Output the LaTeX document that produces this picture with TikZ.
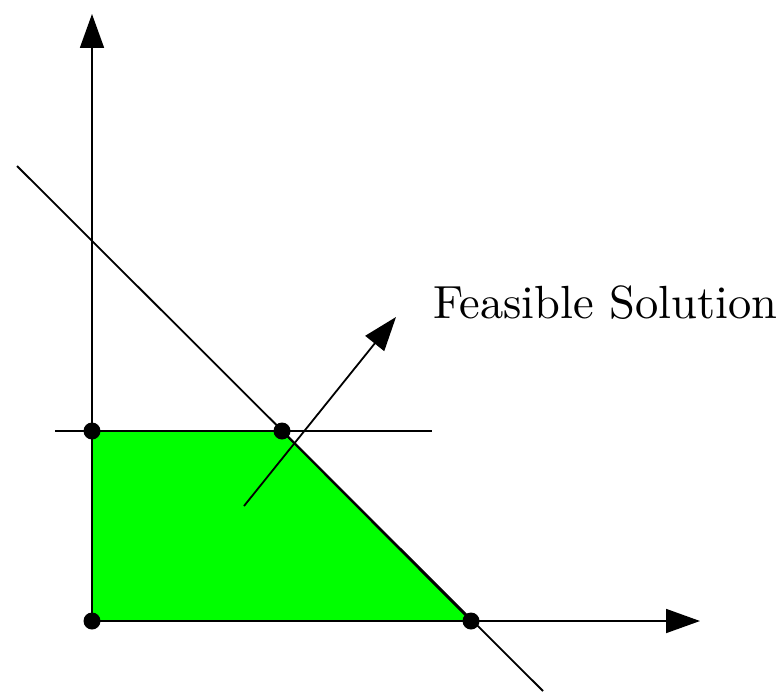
\documentclass[tikz,border=0pt]{standalone}
\usepackage{graphicx}
\usetikzlibrary{arrows.meta}
\begin{document}
\begin{tikzpicture}[x=1pt,y=-1pt,
  ln/.style={line width=1.8pt, black},
  axis/.style={ln, -{Triangle[length=34pt,width=24pt]}},
  vdot/.style={circle, fill=black, inner sep=0pt, minimum size=17pt},
  lbl/.style={inner sep=0pt, anchor=base west, font=\normalsize}]
\useasboundingbox (0,0) rectangle (783,693);
\coordinate (O) at (92,621);
\coordinate (A) at (92,431);
\coordinate (B) at (282,431);
\coordinate (C) at (471,621);
\coordinate (ytip) at (92,14);
\coordinate (xtip) at (700,621);
\coordinate (hl) at (55,431);
\coordinate (hr) at (432,431);
\coordinate (d1) at (17,166);
\coordinate (d2) at (543,691);
\coordinate (s) at (244,506);
\coordinate (e) at (396,317);
\fill[green] (O) -- (A) -- (B) -- (C) -- cycle;
\draw[ln] (O) -- (A) -- (B) -- (C) -- cycle;
\draw[axis] (O) -- (ytip);
\draw[axis] (O) -- (xtip);
\draw[ln] (hl) -- (hr);
\draw[ln] (d1) -- (d2);
\draw[axis] (s) -- (e);
\node[vdot] (pO) at (O) {};
\node[vdot] (pA) at (A) {};
\node[vdot] (pB) at (B) {};
\node[vdot] (pC) at (C) {};
\node[lbl] (t) at (433,318) {\scalebox{4.65}{Feasible Solution}};
\end{tikzpicture}
\end{document}
